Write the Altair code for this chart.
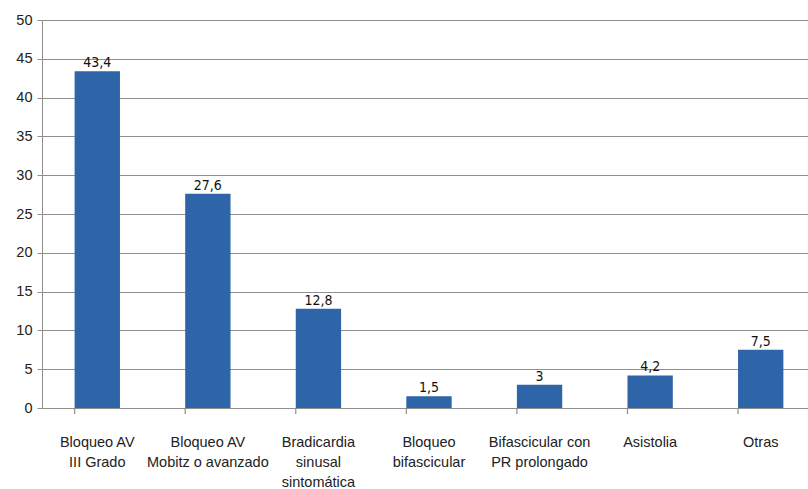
import altair as alt
import pandas as pd

categories = [
    "Bloqueo AV|III Grado",
    "Bloqueo AV|Mobitz o avanzado",
    "Bradicardia|sinusal|sintomática",
    "Bloqueo|bifascicular",
    "Bifascicular con|PR prolongado",
    "Asistolia",
    "Otras",
]
values = [43.4, 27.6, 12.8, 1.5, 3, 4.2, 7.5]
y_ticks = list(range(0, 51, 5))

df = pd.DataFrame({"cat": categories, "value": values})

W, H = 766, 388
BLUE = "#2E64A8"
GRID = "#8f8f8f"

xscale = alt.Scale(domain=categories, range=[0, 774], paddingInner=0.59, paddingOuter=0.295)

yenc = alt.Y(
    "value:Q",
    scale=alt.Scale(domain=[0, 50], nice=False),
    axis=alt.Axis(
        title=None,
        values=y_ticks,
        tickCount=len(y_ticks),
        grid=True,
        gridColor=GRID,
        gridWidth=1.2,
        domainColor=GRID,
        tickColor=GRID,
        tickSize=5,
        labelFont="Liberation Sans",
        labelFontSize=14.5,
        labelColor="#222222",
        labelPadding=5,
        labelOverlap=False,
    ),
)

xenc = alt.X(
    "cat:N",
    scale=xscale,
    sort=None,
    axis=alt.Axis(
        title=None,
        labelExpr="split(datum.label, '|')",
        labelAngle=0,
        labelFont="Liberation Sans",
        labelFontSize=14.5,
        labelColor="#222222",
        labelPadding=27,
        labelLineHeight=20,
        labelBaseline="top",
        ticks=False,
        domain=True,
        domainColor=GRID,
        labelLimit=200,
        labelOverlap=False,
    ),
)

base = alt.Chart(df)

bars = base.mark_bar(color=BLUE).encode(x=xenc, y=yenc)

labels = base.transform_calculate(
    lab="replace(toString(datum.value), '.', ',')"
).mark_text(
    baseline="bottom", dy=-1, font="DejaVu Sans Condensed", fontSize=14, color="#111111"
).encode(
    x=xenc,
    y=yenc,
    text="lab:N",
)

ticks = base.mark_rule(color=GRID, strokeWidth=1.2).encode(
    x=alt.X("cat:N", scale=xscale, sort=None, bandPosition=0),
    y=alt.value(H),
    y2=alt.value(H + 6),
)

chart = (
    alt.layer(bars, labels, ticks)
    .properties(
        width=W,
        height=H,
        autosize=alt.AutoSizeParams(type="none"),
        padding={"left": 42, "top": 20, "right": 0, "bottom": 81},
        background="white",
    )
    .configure_view(stroke=None)
)

chart.save("out.html", embed_options={"renderer": "svg", "actions": False})
